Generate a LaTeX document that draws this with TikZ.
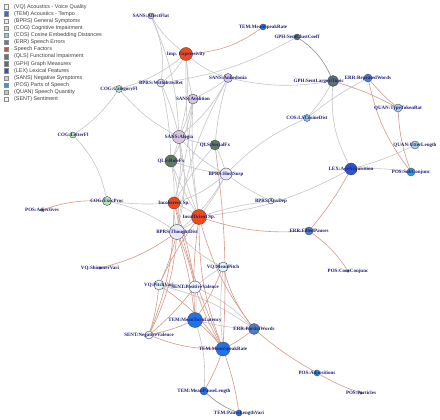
\documentclass[tikz,border=0pt]{standalone}
\usepackage{fontspec}
\setmainfont{Liberation Serif}
\setsansfont{Liberation Sans}
\usetikzlibrary{positioning,backgrounds}
\definecolor{figlabel}{HTML}{1F1F7A}
\definecolor{figrim}{HTML}{4A4A5A}
\definecolor{edgegray}{HTML}{C6C6C6}
\definecolor{edgedark}{HTML}{8C8C8C}
\definecolor{edgered}{HTML}{D49A88}
\definecolor{vqcol}{HTML}{E2F7F7}
\definecolor{temcol}{HTML}{1F74EE}
\definecolor{bprscol}{HTML}{EAEAF8}
\definecolor{cogcol}{HTML}{B6E6B4}
\definecolor{coscol}{HTML}{8EC8E6}
\definecolor{errcol}{HTML}{4A7EC6}
\definecolor{spcol}{HTML}{F24A14}
\definecolor{qlscol}{HTML}{5E7C5E}
\definecolor{gphcol}{HTML}{5C7272}
\definecolor{lexcol}{HTML}{2C52D4}
\definecolor{sanscol}{HTML}{D6C6DE}
\definecolor{poscol}{HTML}{22A2EA}
\definecolor{quancol}{HTML}{A8D2E2}
\definecolor{sentcol}{HTML}{F2F6F8}

\begin{document}
\begin{tikzpicture}[x=1pt, y=-1pt,
  vert/.style={circle, draw=figrim, line width=0.4pt, inner sep=0pt},
  vlbl/.style={font=\fontsize{5}{5}\selectfont\bfseries, text=figlabel, inner sep=0pt},
  gedge/.style={draw=edgegray, line width=0.6pt},
  dedge/.style={draw=edgedark, line width=0.6pt},
  redge/.style={draw=edgered, line width=0.6pt},
  legsq/.style={draw=black!45, line width=0.3pt, minimum size=4.4pt, inner sep=0pt},
  legtxt/.style={font=\sffamily\fontsize{5.4}{5.4}\selectfont, text=black!75, inner sep=0pt}
]
\useasboundingbox (0,0) rectangle (440,420);

% legend
\foreach \c/\t [count=\i] in {vqcol/(VQ) Acoustics - Voice Quality, temcol/(TEM) Acoustics - Tempo,
    bprscol/(BPRS) General Symptoms, cogcol/(COG) Cognitive Impairment,
    coscol/(COS) Cosine Embedding Distances, errcol/(ERR) Speech Errors,
    spcol/Speech Factors, qlscol/(QLS) Functional Impairment, gphcol/(GPH) Graph Measures,
    lexcol/(LEX) Lexical Features, sanscol/(SANS) Negative Symptoms,
    poscol/(POS) Parts of Speech, quancol/(QUAN) Speech Quantity, sentcol/(SENT) Sentiment} {
  \node[legsq, fill=\c] (leg\i) at (6, {6.7+7.12*(\i-1)}) {};
  \node[legtxt, right=5.6pt of leg\i] (legt\i) {\t};
}

% vertices
\node[vert, fill=sanscol, minimum size=6pt] (affflat) at (151,16) {};
\node[vert, fill=temcol, minimum size=6pt] (speaktop) at (263,27) {};
\node[vert, fill=gphcol, minimum size=6pt] (gphclust) at (297,37) {};
\node[vert, fill=spcol, minimum size=13pt] (impexp) at (186,54) {};
\node[vert, fill=sanscol, minimum size=9pt] (anhed) at (228,78) {};
\node[vert, fill=bprscol, minimum size=8pt] (withdr) at (161,83) {};
\node[vert, fill=sanscol, minimum size=10pt] (avol) at (193,99) {};
\node[vert, fill=cogcol, minimum size=7pt] (catfl) at (119,89) {};
\node[vert, fill=gphcol, minimum size=11pt] (gphlarg) at (333,81) {};
\node[vert, fill=errcol, minimum size=8pt] (repwords) at (368,78) {};
\node[vert, fill=quancol, minimum size=8pt] (ttr) at (398,108) {};
\node[vert, fill=coscol, minimum size=7pt] (cosdist) at (307,118) {};
\node[vert, fill=sanscol, minimum size=13pt] (alogia) at (179,137) {};
\node[vert, fill=qlscol, minimum size=10pt] (social) at (215,145) {};
\node[vert, fill=qlscol, minimum size=12pt] (role) at (171,161) {};
\node[vert, fill=bprscol, minimum size=12pt] (hostsusp) at (226,174) {};
\node[vert, fill=cogcol, minimum size=6pt] (letterfl) at (73,135) {};
\node[vert, fill=quancol, minimum size=8pt] (uttlen) at (415,145) {};
\node[vert, fill=poscol, minimum size=8pt] (subconj) at (411,172) {};
\node[vert, fill=lexcol, minimum size=12pt] (ageacq) at (351,169) {};
\node[vert, fill=cogcol, minimum size=9pt] (execproc) at (107,201) {};
\node[vert, fill=poscol, minimum size=2.5pt] (adject) at (42,210) {};
\node[vert, fill=bprscol, minimum size=6pt] (anxdep) at (271,201) {};
\node[vert, fill=spcol, minimum size=12pt] (incoh) at (174,203) {};
\node[vert, fill=spcol, minimum size=15pt] (insuff) at (199,217) {};
\node[vert, fill=bprscol, minimum size=15pt] (thought) at (177,232) {};
\node[vert, fill=errcol, minimum size=8pt] (fillpaus) at (309,231) {};
\node[vert, fill=vqcol, minimum size=2.5pt] (shimmer) at (100,268) {};
\node[vert, fill=vqcol, minimum size=10pt] (meanpitch) at (223,267) {};
\node[vert, fill=poscol, minimum size=2.5pt] (coorconj) at (348,271) {};
\node[vert, fill=vqcol, minimum size=10pt] (pitchvari) at (159,285) {};
\node[vert, fill=sentcol, minimum size=12pt] (posval) at (195,287) {};
\node[vert, fill=temcol, minimum size=15pt] (turnlat) at (195,320) {};
\node[vert, fill=errcol, minimum size=11pt] (partial) at (254,329) {};
\node[vert, fill=sentcol, minimum size=8pt] (negval) at (149,335) {};
\node[vert, fill=temcol, minimum size=14pt] (speakrate) at (223,349) {};
\node[vert, fill=temcol, minimum size=8pt] (pauselen) at (204,391) {};
\node[vert, fill=temcol, minimum size=6pt] (pausevari) at (239,413) {};
\node[vert, fill=poscol, minimum size=6pt] (adpos) at (317,373) {};
\node[vert, fill=poscol, minimum size=2.5pt] (particles) at (361,393) {};

% edges
\begin{scope}[on background layer]
\fill[white] (0,0) rectangle (440,420);
\foreach \a/\b/\d in {affflat/withdr/15, affflat/impexp/-10, affflat/alogia/10, impexp/withdr/10,
    impexp/avol/-5, impexp/anhed/-10, impexp/alogia/10, impexp/catfl/10, impexp/insuff/-5,
    withdr/gphclust/-10, withdr/alogia/5, withdr/role/5, catfl/letterfl/10, catfl/alogia/-10,
    letterfl/execproc/15, execproc/incoh/-5, execproc/thought/10, anhed/avol/5, anhed/gphlarg/-10,
    anhed/alogia/10, anhed/social/-5, anhed/thought/-10, avol/alogia/5, avol/role/10,
    avol/insuff/-5, avol/incoh/5, gphlarg/cosdist/5, gphlarg/ageacq/-15, repwords/cosdist/-5,
    cosdist/hostsusp/-10, alogia/role/5, alogia/social/-5, alogia/incoh/10, alogia/thought/12,
    alogia/hostsusp/-10, alogia/insuff/-8, role/incoh/5, role/thought/10, role/hostsusp/-5,
    role/insuff/-5, social/hostsusp/5, social/incoh/-5, hostsusp/anxdep/-5, hostsusp/incoh/10,
    hostsusp/insuff/5, hostsusp/thought/10, incoh/insuff/5, incoh/thought/-5, insuff/thought/5,
    insuff/ageacq/-10, thought/meanpitch/-10, anxdep/insuff/-5, ageacq/subconj/5, ageacq/uttlen/-5,
    meanpitch/posval/-5, meanpitch/speakrate/-5, posval/pitchvari/5, posval/turnlat/5,
    posval/partial/10, turnlat/partial/-5, turnlat/pauselen/10, pitchvari/partial/10}
  \draw[gedge] (\a) to[bend left=\d] (\b);
\draw[dedge] (gphclust) to[bend left=15] (gphlarg);
\draw[dedge] (pauselen) to[bend right=10] (pausevari);
\foreach \a/\b/\d in {impexp/speaktop/-15, gphlarg/ttr/5, repwords/ttr/-5, ttr/subconj/-8,
    repwords/subconj/-12, ageacq/fillpaus/5, fillpaus/coorconj/10, insuff/fillpaus/-10,
    execproc/adject/-10, shimmer/thought/-10, social/speakrate/5, thought/posval/5,
    thought/turnlat/5, thought/negval/10, thought/pitchvari/5, insuff/pitchvari/-5,
    insuff/turnlat/-5, insuff/speakrate/-10, incoh/posval/5, incoh/negval/10, incoh/speakrate/-5,
    meanpitch/turnlat/5, meanpitch/partial/-10, posval/negval/5, posval/speakrate/-5,
    pitchvari/negval/5, pitchvari/speakrate/10, negval/turnlat/-5, negval/speakrate/-10,
    turnlat/speakrate/5, speakrate/partial/-5, speakrate/pauselen/5, speakrate/pausevari/5,
    partial/adpos/-5, adpos/particles/-5, partial/insuff/10}
  \draw[redge] (\a) to[bend left=\d] (\b);
\end{scope}

% vertex labels
\foreach \n/\t in {affflat/SANS:AffectFlat, speaktop/TEM:MeanSpeakRate, gphclust/GPH:SentClustCoeff,
    impexp/Imp. Expressivity, anhed/SANS:Anhedonia, withdr/BPRS:WithdrawRet, avol/SANS:Avolition,
    catfl/COG:CategoryFl, repwords/ERR:RepeatedWords,
    ttr/QUAN:TypeTokenRat, cosdist/COS:LSCosineDist, alogia/SANS:Alogia, social/QLS:SocialFx,
    role/QLS:RoleFx, hostsusp/BPRS:HostSusp, letterfl/COG:LetterFl, uttlen/QUAN:UtterLength,
    subconj/POS:SubConjunc, ageacq/LEX:AgeAcquisition, execproc/COG:ExecProc,
    adject/POS:Adjectives, anxdep/BPRS:AnxDep, incoh/Incoherent Sp., insuff/Insufficient Sp.,
    thought/BPRS:ThoughtDist, fillpaus/ERR:FilledPauses, shimmer/VQ:ShimmerVari,
    meanpitch/VQ:MeanPitch, coorconj/POS:CoorConjunc, pitchvari/VQ:PitchVari,
    posval/SENT:PositiveValence, turnlat/TEM:MeanTurnLatency, partial/ERR:PartialWords,
    negval/SENT:NegativeValence, speakrate/TEM:MeanSpeakRate, pauselen/TEM:MeanPauseLength,
    pausevari/TEM:PauseLengthVari, adpos/POS:Adpositions, particles/POS:Particles}
  \node[vlbl] (l\n) at (\n) {\t};
\node[vlbl, anchor=east] (lgphlarg) at ([xshift=11pt]gphlarg.center) {GPH:SentLargestTopic};
\end{tikzpicture}
\end{document}
